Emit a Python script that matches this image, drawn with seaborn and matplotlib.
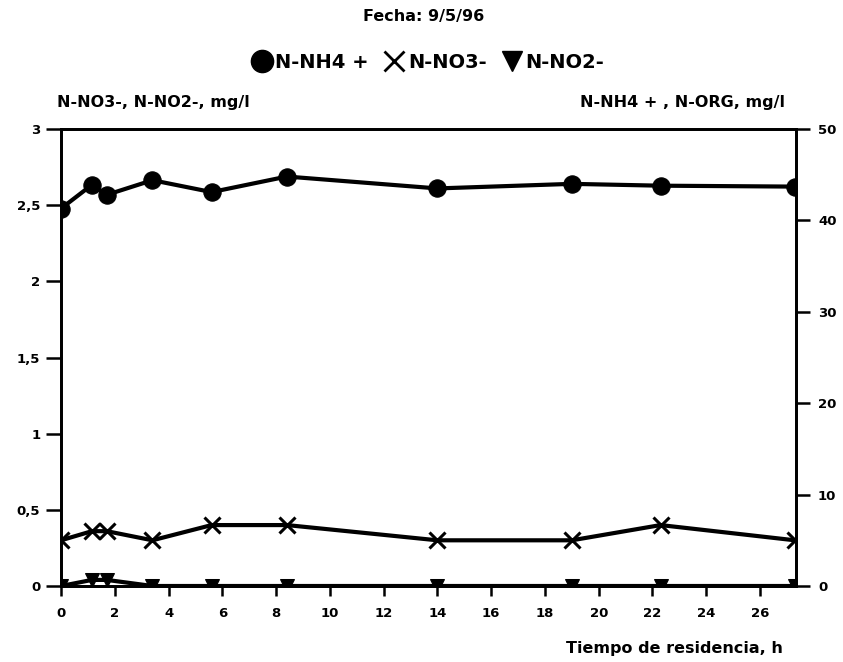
import matplotlib
matplotlib.use("Agg")
import matplotlib.pyplot as plt
from matplotlib.lines import Line2D
from matplotlib.ticker import FuncFormatter
import seaborn as sns
import pandas as pd

# Residence time (h) and nitrogen species concentrations (mg/l)
tiempo = [0, 1.15, 1.7, 3.4, 5.6, 8.4, 14.0, 19.0, 22.3, 27.3]
n_nh4 = [41.3, 43.9, 42.8, 44.4, 43.1, 44.8, 43.5, 44.0, 43.8, 43.7]
n_no3 = [0.30, 0.36, 0.36, 0.30, 0.40, 0.40, 0.30, 0.30, 0.40, 0.30]
n_no2 = [0.00, 0.04, 0.04, 0.00, 0.00, 0.00, 0.00, 0.00, 0.00, 0.00]

left_ticks = [0, 0.5, 1, 1.5, 2, 2.5, 3]
right_ticks = [0, 10, 20, 30, 40, 50]
x_ticks = list(range(0, 27, 2))

df = pd.DataFrame({"t": tiempo, "nh4": n_nh4, "no3": n_no3, "no2": n_no2})

sns.set_style("ticks")
plt.rcParams["font.family"] = ["DejaVu Sans"]
plt.rcParams["font.weight"] = "bold"
plt.rcParams["text.color"] = "black"
plt.rcParams["xtick.color"] = "black"
plt.rcParams["ytick.color"] = "black"
plt.rcParams["xtick.labelcolor"] = "black"
plt.rcParams["ytick.labelcolor"] = "black"

fig = plt.figure(figsize=(8.43, 6.62), dpi=100)
ax = fig.add_axes([0.0724, 0.1148, 0.8716, 0.6903])
ax2 = ax.twinx()

lw = 3.0
sns.lineplot(data=df, x="t", y="no3", ax=ax, color="black", linewidth=lw,
             marker="x", markersize=12, markeredgewidth=2.2, markeredgecolor="black")
sns.lineplot(data=df, x="t", y="no2", ax=ax, color="black", linewidth=lw,
             marker="v", markersize=10, markeredgecolor="black")
sns.lineplot(data=df, x="t", y="nh4", ax=ax2, color="black", linewidth=lw,
             marker="o", markersize=12.5, markeredgecolor="black")

ax.set_xlim(0, 27.33)
ax.set_ylim(0, 3)
ax2.set_ylim(0, 50)
ax.set_xticks(x_ticks)
ax.set_yticks(left_ticks)
ax2.set_yticks(right_ticks)
ax.yaxis.set_major_formatter(FuncFormatter(lambda v, p: f"{v:g}".replace(".", ",")))

for a in (ax, ax2):
    a.set_xlabel("")
    a.set_ylabel("")
    for s in a.spines.values():
        s.set_linewidth(2.0)
        s.set_color("black")
        s.set_visible(True)

ax.tick_params(axis="y", direction="out", length=11, width=1.8, labelsize=9.5, pad=4,
               colors="black")
ax.tick_params(axis="x", direction="out", length=7, width=1.8, labelsize=9.5, pad=8,
               colors="black")
ax2.tick_params(axis="y", direction="out", length=10, width=1.8, labelsize=9.5, pad=6,
                colors="black")
for lab in ax.get_xticklabels() + ax.get_yticklabels() + ax2.get_yticklabels():
    lab.set_fontweight("bold")

fig.text(424 / 843, 1 - 16 / 662, "Fecha: 9/5/96", ha="center", va="center",
         fontsize=11.5, fontweight="bold", color="black")
fig.text(57 / 843, 1 - 103 / 662, "N-NO3-, N-NO2-, mg/l", ha="left", va="center",
         fontsize=11.5, fontweight="bold", color="black")
fig.text(785 / 843, 1 - 103 / 662, "N-NH4 + , N-ORG, mg/l", ha="right", va="center",
         fontsize=11.5, fontweight="bold", color="black")
fig.text(783 / 843, 1 - 648 / 662, "Tiempo de residencia, h", ha="right", va="center",
         fontsize=11.5, fontweight="bold", color="black")

handles = [
    Line2D([], [], color="black", linestyle="none", marker="o", markersize=16),
    Line2D([], [], color="black", linestyle="none", marker="x", markersize=15, markeredgewidth=2),
    Line2D([], [], color="black", linestyle="none", marker="v", markersize=14),
]
fig.legend(handles, ["N-NH4 +", "N-NO3-", "N-NO2-"], loc="center",
           bbox_to_anchor=(428 / 843, 1 - 62 / 662), ncol=3, frameon=False,
           handlelength=1.0, handletextpad=0.2, columnspacing=0.8,
           labelcolor="black", prop={"size": 14, "weight": "bold"})

fig.savefig("out.png", dpi=100)
